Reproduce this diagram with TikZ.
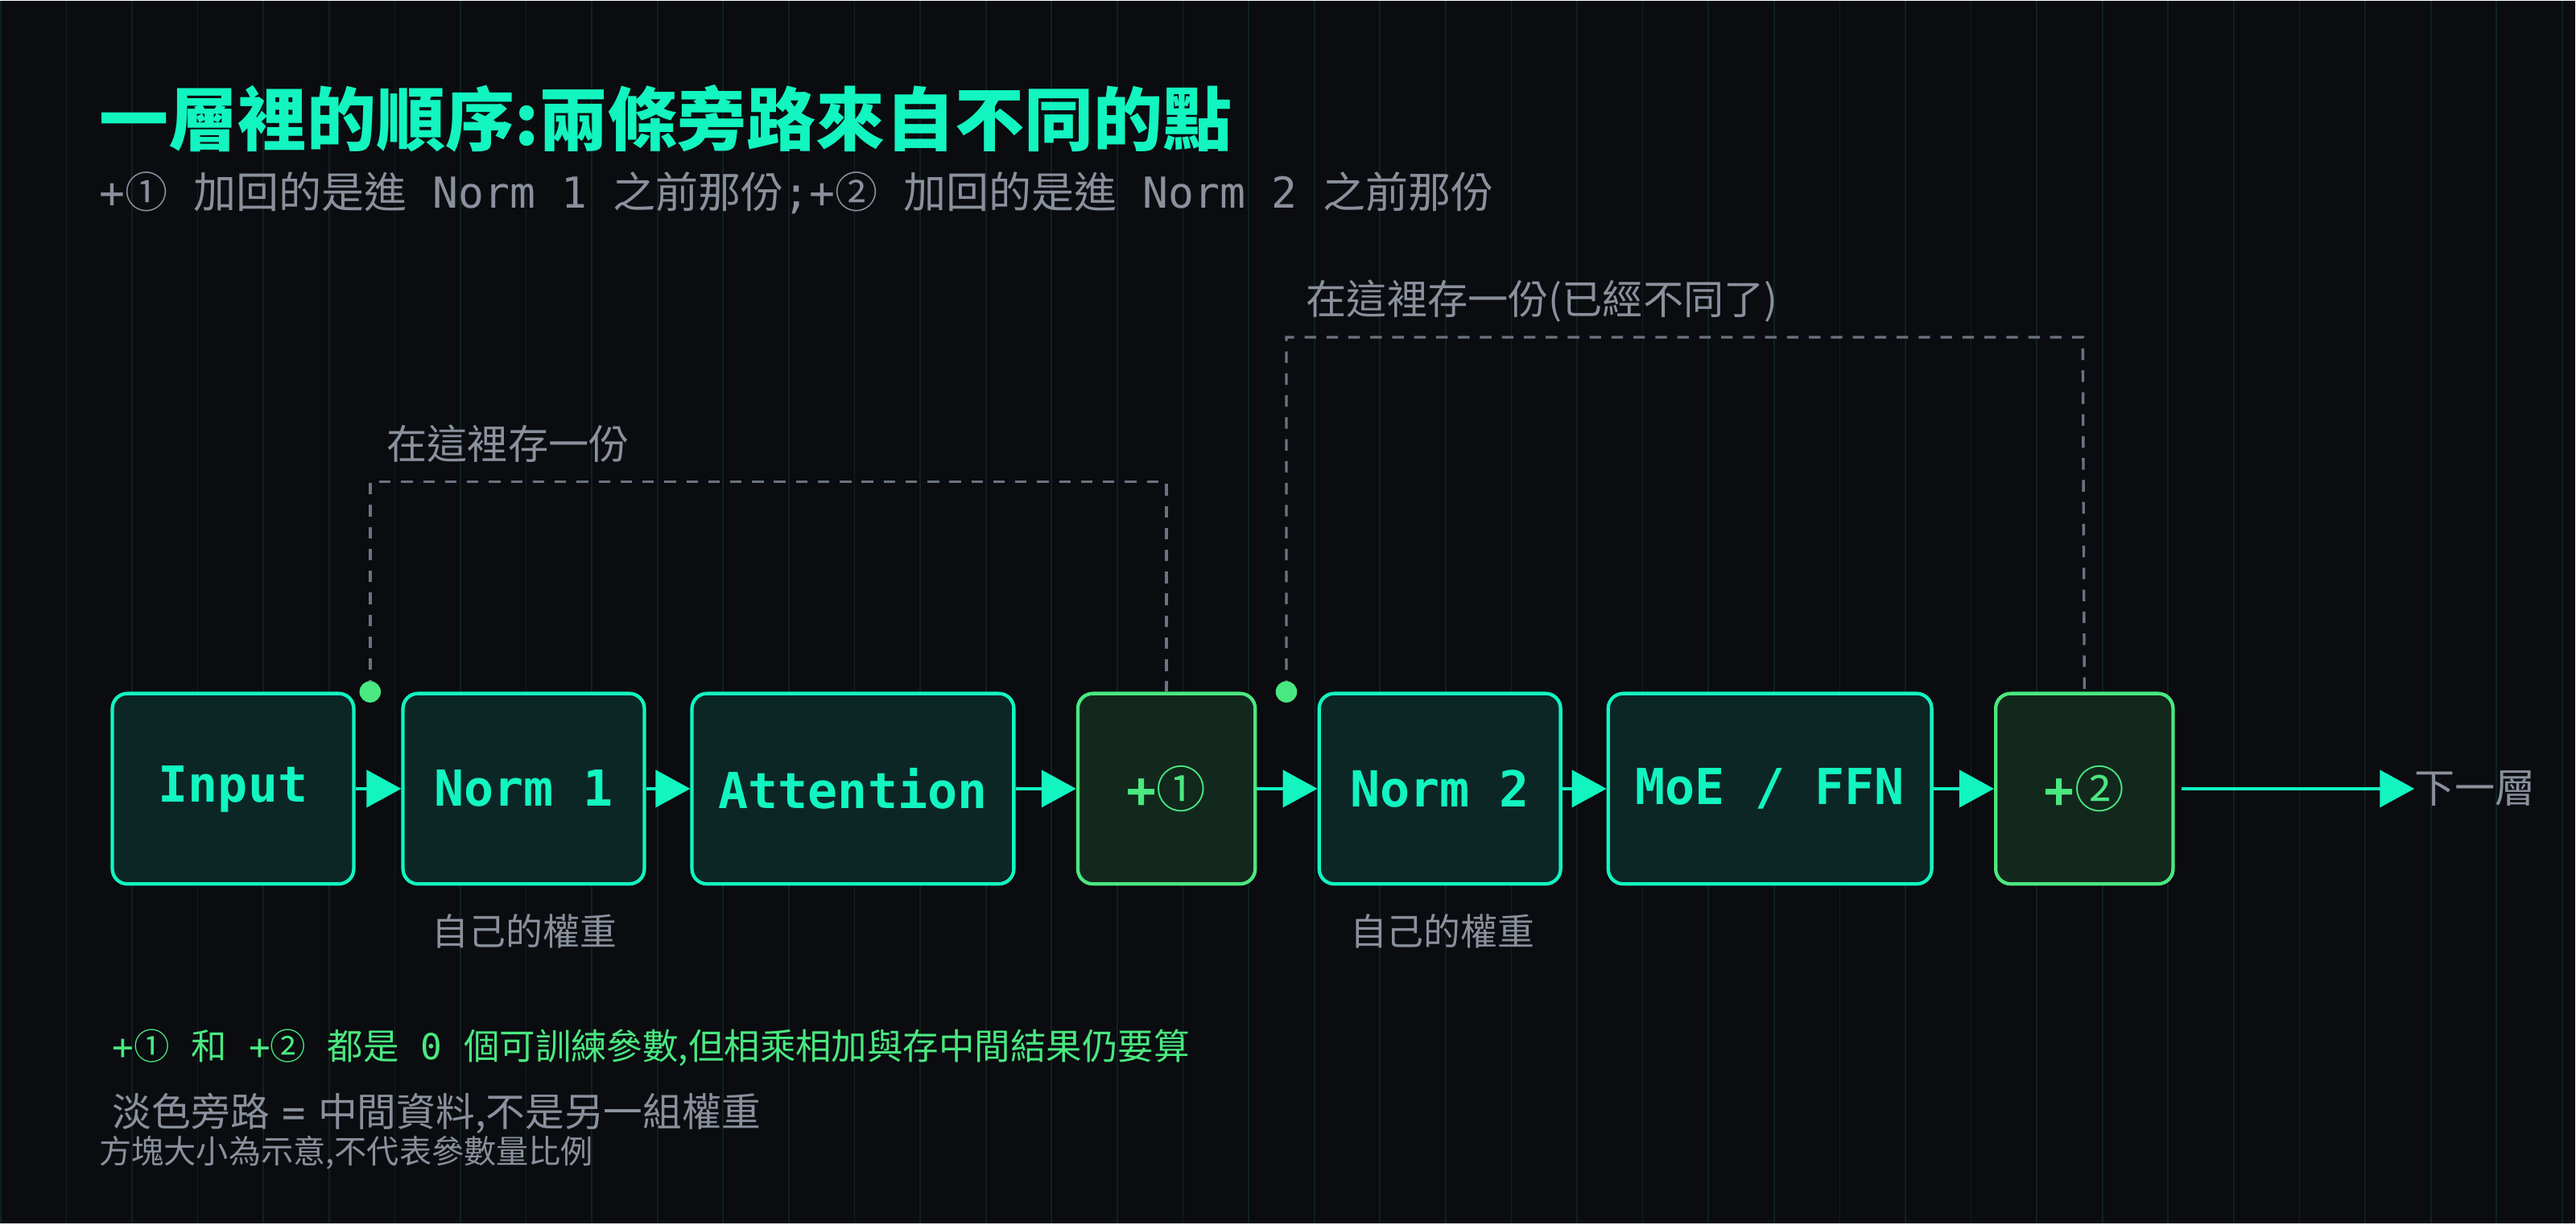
\documentclass[tikz,border=0pt]{standalone}
\usepackage{fontspec}
\setmainfont{DejaVu Sans}
\setmonofont{DejaVu Sans Mono}
\newfontfamily\cj{Noto Sans CJK TC}
\usetikzlibrary{positioning, arrows.meta}
\definecolor{bgc}{HTML}{0A0C10}
\definecolor{gridc}{HTML}{10211E}
\definecolor{teal}{HTML}{12F5C0}
\definecolor{tealfill}{HTML}{0C2626}
\definecolor{grn}{HTML}{4AE880}
\definecolor{grnfill}{HTML}{12281C}
\definecolor{txtgray}{HTML}{8A909C}
\definecolor{dashgray}{HTML}{6B7280}
\tikzset{
  blk/.style={draw=teal, fill=tealfill, line width=3, rounded corners=13,
    minimum height=58mm, text=teal, font=\ttfamily\bfseries\fontsize{43}{43}\selectfont, inner sep=0},
  addblk/.style={blk, draw=grn, fill=grnfill, text=grn, minimum width=54mm},
  flow/.style={-{Triangle[length=30,width=32]}, teal, line width=3},
  bypass/.style={dashgray, line width=2.4, dash pattern=on 10 off 9},
  note/.style={text=txtgray, font=\cj\fontsize{35}{35}\selectfont, anchor=west, inner sep=0},
}
\begin{document}
\begin{tikzpicture}[x=0.5mm, y=-0.5mm]
    % background and grid
    \fill[bgc] (0,0) rectangle (1568,745);
    \draw[gridc, line width=1.2] (0,0) grid[step=40] (1568,745);
    \useasboundingbox (0,0) rectangle (1568,745);

    % title
    \node[anchor=west, text=teal, font=\cj\bfseries\fontsize{60}{60}\selectfont, inner sep=0] (title) at (60,72)
        {一層裡的順序:兩條旁路來自不同的點};
    \node[note, font=\fontsize{37}{37}\selectfont] (sub) at (60,117)
        {\ttfamily +{\cj ①} {\cj 加回的是進} Norm 1 {\cj 之前那份};+{\cj ②} {\cj 加回的是進} Norm 2 {\cj 之前那份}};

    % blocks
    \node[blk, minimum width=73.5mm] (input) at (141.5,480) {Input};
    \node[blk, minimum width=73.5mm] (norm1) at (318.5,480) {Norm 1};
    \node[blk, minimum width=98mm] (attn) at (519,480) {Attention};
    \node[addblk] (add1) at (710,480) {+{\cj\mdseries ①}};
    \node[blk, minimum width=73.5mm] (norm2) at (876.5,480) {Norm 2};
    \node[blk, minimum width=98.5mm] (moe) at (1077.5,480) {MoE / FFN};
    \node[addblk] (add2) at (1269,480) {+{\cj\mdseries ②}};
    \node[note] (next) at (1470,480) {下一層};

    % main flow
    \draw[flow] (input) -- (norm1);
    \draw[flow] (norm1) -- (attn);
    \draw[flow] (attn) -- (add1);
    \draw[flow] (add1) -- (norm2);
    \draw[flow] (norm2) -- (moe);
    \draw[flow] (moe) -- (add2);
    \draw[flow] ([xshift=6]add2.east) -- (next.west);

    % bypasses
    \coordinate (tap1) at (225,421);
    \coordinate (tap2) at (783,421);
    \draw[bypass] (tap1) -- (225,293) -- (710,293) -- (add1.north);
    \draw[bypass] (tap2) -- (783,205) -- (1268,205) -- (add2.north);
    \fill[grn] (tap1) circle (6.5);
    \fill[grn] (tap2) circle (6.5);
    \node[note] (save1) at (235,270) {在這裡存一份};
    \node[note] (save2) at (795,183) {在這裡存一份(已經不同了)};

    % weight notes
    \node[note, anchor=center, font=\cj\fontsize{32}{32}\selectfont] (w1) at (319,567) {自己的權重};
    \node[note, anchor=center, font=\cj\fontsize{32}{32}\selectfont] (w2) at (878,567) {自己的權重};

    % footnotes
    \node[note, text=grn, font=\fontsize{31}{31}\selectfont] (foot1) at (68,638)
        {\ttfamily +{\cj ①} {\cj 和} +{\cj ②} {\cj 都是} 0 {\cj 個可訓練參數,但相乘相加與存中間結果仍要算}};
    \node[note, font=\fontsize{34}{34}\selectfont] (foot2) at (68,678)
        {{\cj 淡色旁路} {\ttfamily =} {\cj 中間資料,不是另一組權重}};
    \node[note, font=\cj\fontsize{28}{28}\selectfont] (foot3) at (60,702)
        {方塊大小為示意,不代表參數量比例};
\end{tikzpicture}
\end{document}
